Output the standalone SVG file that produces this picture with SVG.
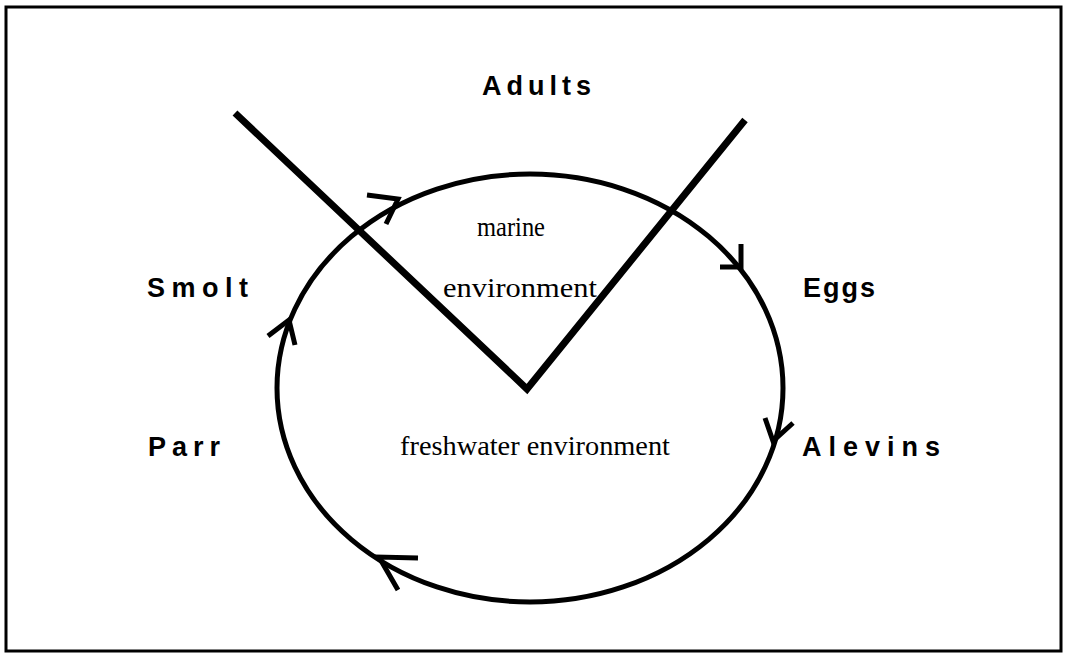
<svg xmlns="http://www.w3.org/2000/svg" width="1066" height="655" viewBox="0 0 1066 655">
<style>
.lbl{font-family:"Liberation Sans",Arial,sans-serif;font-weight:bold;font-size:27px;fill:#000}
.env{font-family:"Liberation Serif","Times New Roman",serif;font-size:28px;fill:#000}
.line{fill:none;stroke:#000;stroke-linecap:butt;stroke-linejoin:miter}
.head{fill:none;stroke:#000;stroke-width:5;stroke-linecap:butt;stroke-linejoin:miter}
</style>
<rect x="6" y="7" width="1055" height="644" fill="#fff" stroke="#000" stroke-width="3"/>
<g id="connectors">
<ellipse cx="530" cy="388" rx="253" ry="214" class="line" stroke-width="5"/>
<polyline points="235,113 527,389 745,120" class="line" stroke-width="7"/>
<polyline points="367,195 398,199 386,224" class="head"/>
<polyline points="741,244 741,267 720,267" class="head"/>
<polyline points="765,418 773,441 793,423" class="head"/>
<polyline points="418,558 379,557 398,590" class="head"/>
<polyline points="268,336 289,320 295,345" class="head"/>
</g>
<g id="adults"><text x="482" y="95" class="lbl" letter-spacing="5">Adults</text></g>
<g id="eggs"><text x="803" y="297" class="lbl" letter-spacing="2">Eggs</text></g>
<g id="alevins"><text x="802" y="456" class="lbl" letter-spacing="7">Alevins</text></g>
<g id="parr"><text x="148" y="456" class="lbl" letter-spacing="6">Parr</text></g>
<g id="smolt"><text x="147" y="297" class="lbl" letter-spacing="6.5">Smolt</text></g>
<g id="marine"><text x="477" y="236" class="env" textLength="68" lengthAdjust="spacingAndGlyphs">marine</text><text x="443" y="297" class="env" textLength="154" lengthAdjust="spacingAndGlyphs">environment</text></g>
<g id="freshwater"><text x="400" y="455" class="env" textLength="270" lengthAdjust="spacingAndGlyphs">freshwater environment</text></g>
</svg>
